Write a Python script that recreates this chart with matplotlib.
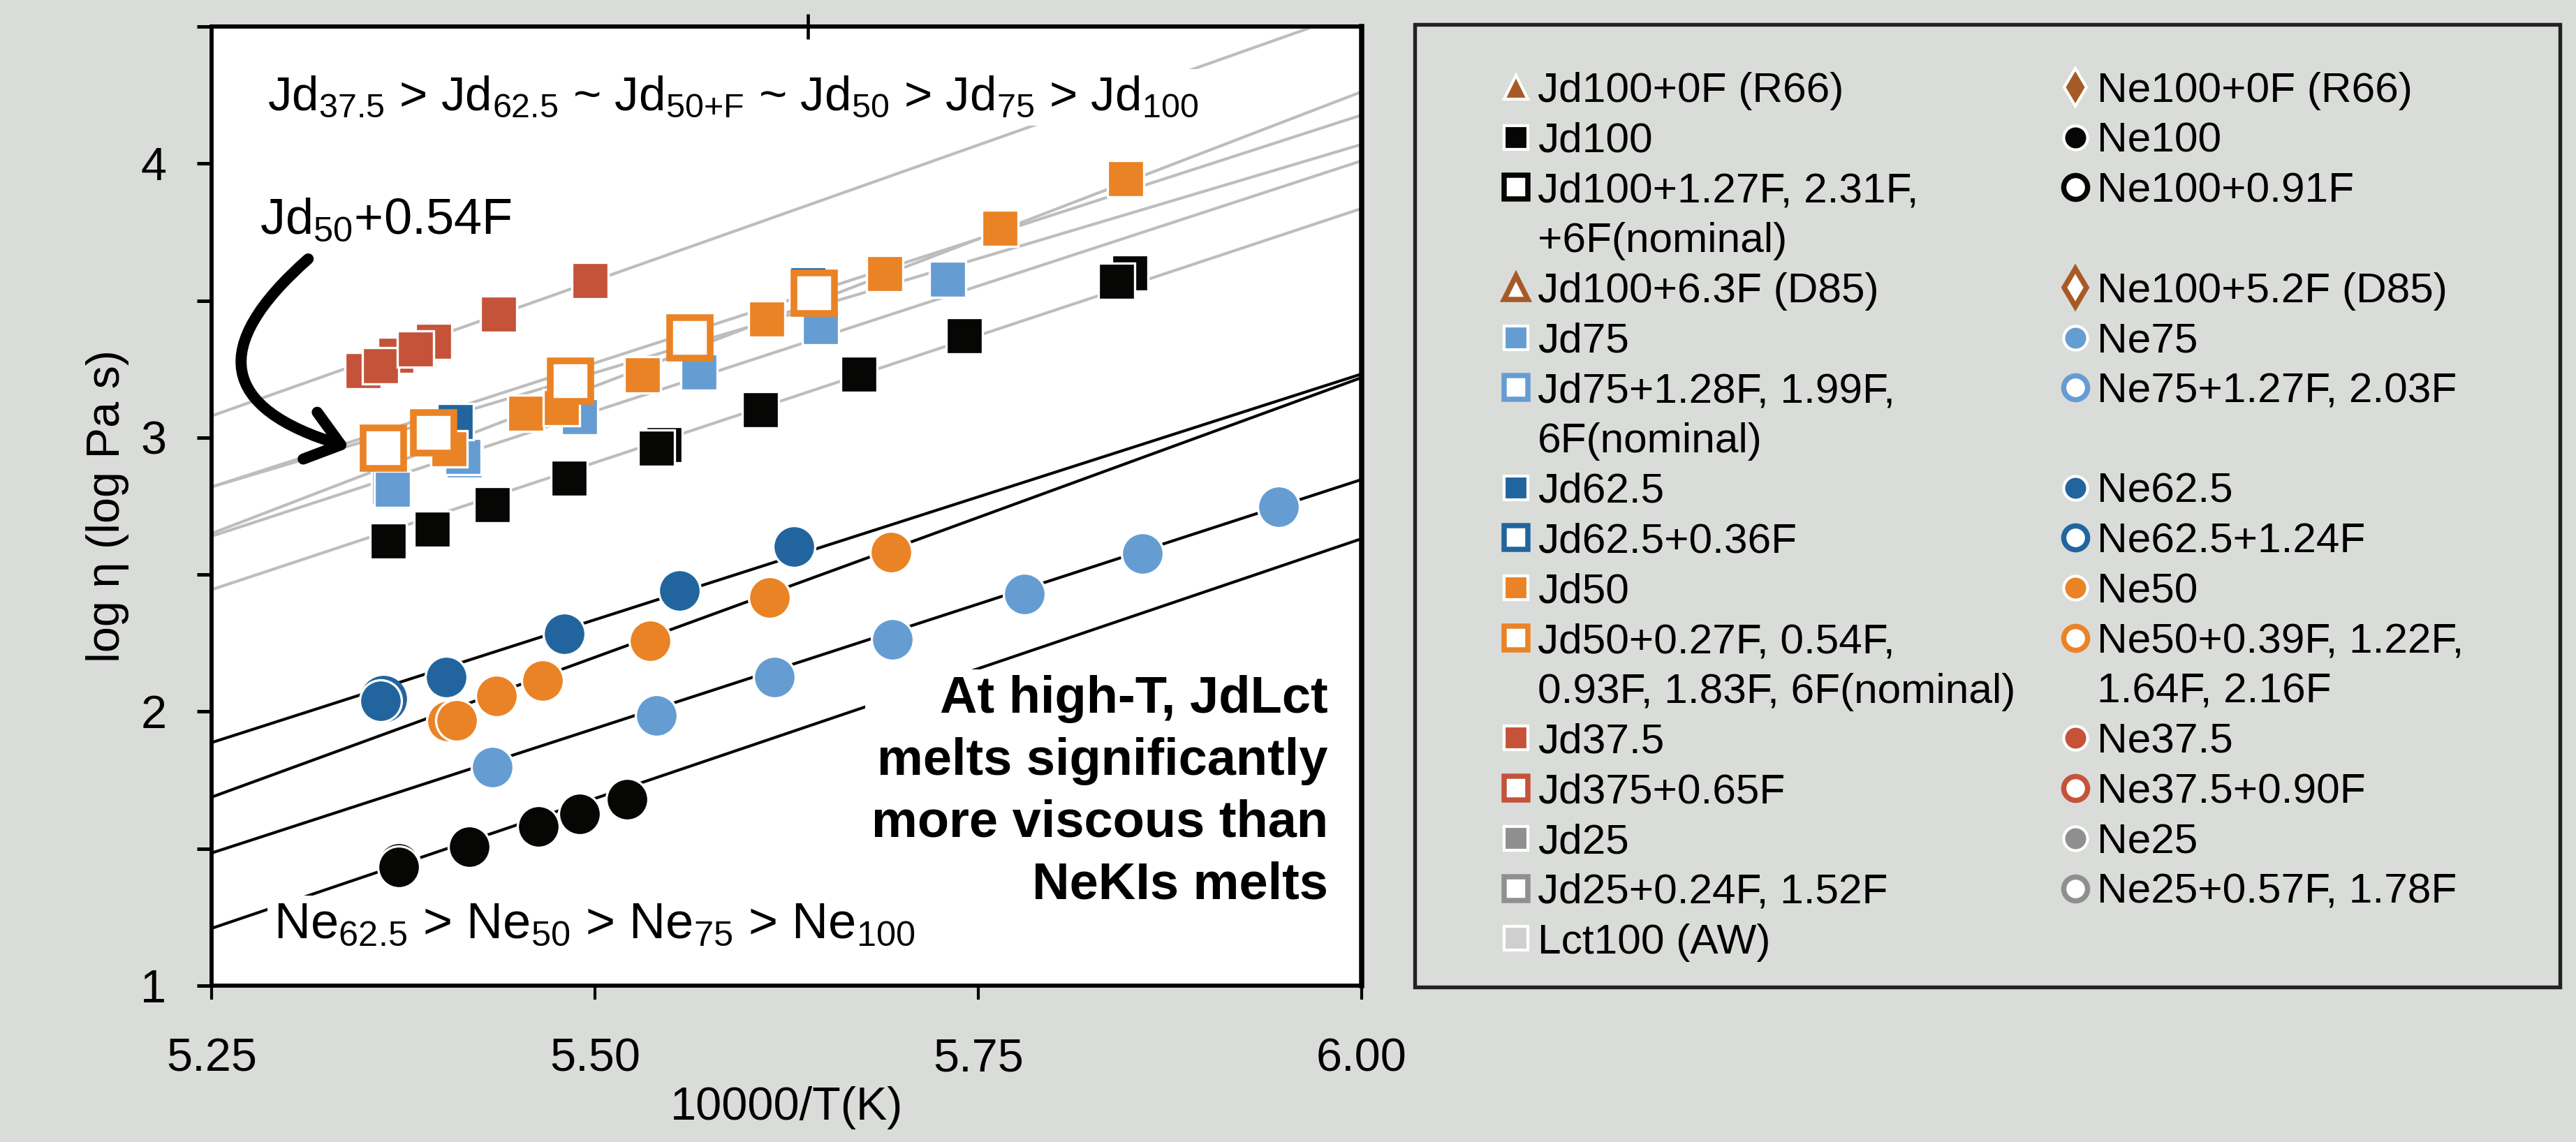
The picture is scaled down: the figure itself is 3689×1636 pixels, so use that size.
import numpy as np
import matplotlib
matplotlib.use("Agg")
import matplotlib.pyplot as plt
from matplotlib.lines import Line2D
from matplotlib.patches import Rectangle

plt.rcParams["font.family"] = ["Liberation Sans", "DejaVu Sans"]
plt.rcParams["mathtext.fontset"] = "custom"
plt.rcParams["mathtext.rm"] = "Liberation Sans"
plt.rcParams["mathtext.it"] = "Liberation Sans:italic"
plt.rcParams["mathtext.bf"] = "Liberation Sans:bold"

# ── colours ──────────────────────────────────────────────────────────────────
BLACK   = "#060604"
RED     = "#C4533A"
ORANGE  = "#EA8325"
LBLUE   = "#659DD3"
DBLUE   = "#22659E"
BROWN   = "#A65A28"
GREY    = "#8F8F8F"
LGREY   = "#CFCFCF"
FITGREY = "#BDBDBD"
BG      = "#DADCD9"

# ── data (x = 10000/T, y = log viscosity) ────────────────────────────────────
jd100_x    = [5.365, 5.394, 5.433, 5.483, 5.545, 5.608, 5.672, 5.741, 5.849]
jd100_y    = [2.623, 2.666, 2.755, 2.852, 2.975, 3.102, 3.232, 3.372, 3.601]
jd100f_x   = [5.540, 5.840]
jd100f_y   = [2.962, 3.571]

jd375_x    = [5.349, 5.370, 5.395, 5.437, 5.497]
jd375_y    = [3.245, 3.300, 3.352, 3.451, 3.573]
jd375f_x   = [5.360, 5.383]
jd375f_y   = [3.262, 3.322]

jd75_x     = [5.366, 5.415, 5.490, 5.568, 5.647, 5.730]
jd75_y     = [2.822, 2.918, 3.076, 3.240, 3.405, 3.578]
jd75f_x    = [5.368, 5.414]
jd75f_y    = [2.812, 2.930]

jd625_x    = [5.409, 5.484, 5.560, 5.639]
jd625_y    = [3.059, 3.222, 3.387, 3.558]

jd50_x     = [5.405, 5.455, 5.478, 5.531, 5.612, 5.689, 5.764, 5.846]
jd50_y     = [2.959, 3.089, 3.109, 3.229, 3.433, 3.599, 3.764, 3.945]
jd50f_x    = [5.362, 5.395, 5.484, 5.562, 5.643]
jd50f_y    = [2.962, 3.018, 3.206, 3.364, 3.527]

ne100_x    = [5.372, 5.418, 5.463, 5.490, 5.521]
ne100_y    = [1.433, 1.507, 1.581, 1.627, 1.680]
ne100f_x   = [5.372]
ne100f_y   = [1.447]

ne625_x    = [5.360, 5.403, 5.480, 5.555, 5.630]
ne625_y    = [2.040, 2.126, 2.284, 2.442, 2.603]
ne625f_x   = [5.362]
ne625f_y   = [2.048]

ne50_x     = [5.404, 5.436, 5.466, 5.536, 5.614, 5.693]
ne50_y     = [1.966, 2.058, 2.113, 2.258, 2.417, 2.582]
ne50f_x    = [5.410]
ne50f_y    = [1.968]

ne75_x     = [5.433, 5.540, 5.617, 5.694, 5.780, 5.857, 5.946]
ne75_y     = [1.797, 1.986, 2.126, 2.264, 2.429, 2.577, 2.748]

# linear fits, value at x = 5.25 and at x = 6.00
FIT_X         = [5.25, 6.00]
jd_fit_left   = [3.079, 2.820, 2.820, 2.650, 2.640, 2.445]
jd_fit_right  = [4.562, 4.177, 4.070, 4.262, 4.010, 3.836]
ne_fit_left   = [1.887, 1.688, 1.484, 1.209]
ne_fit_right  = [3.232, 3.219, 2.847, 2.631]

X_TICKS   = [5.25, 5.50, 5.75, 6.00]
Y_MAJOR   = [1, 2, 3, 4]
Y_MINOR   = [1.5, 2.5, 3.5, 4.5]
TOP_TICK  = [5.639]

# legend (two columns, continuation lines have no marker)
leg_left = [
    ("Jd100+0F (R66)",            "^", BROWN,   "white", 1.0),
    ("Jd100",                     "s", BLACK,   "white", 1.0),
    ("Jd100+1.27F, 2.31F,",       "s", "white", BLACK,   1.8),
    ("+6F(nominal)",              None, None,   None,    0),
    ("Jd100+6.3F (D85)",          "^", "white", BROWN,   1.8),
    ("Jd75",                      "s", LBLUE,   "white", 1.0),
    ("Jd75+1.28F, 1.99F,",        "s", "white", LBLUE,   1.8),
    ("6F(nominal)",               None, None,   None,    0),
    ("Jd62.5",                    "s", DBLUE,   "white", 1.0),
    ("Jd62.5+0.36F",              "s", "white", DBLUE,   1.8),
    ("Jd50",                      "s", ORANGE,  "white", 1.0),
    ("Jd50+0.27F, 0.54F,",        "s", "white", ORANGE,  1.8),
    ("0.93F, 1.83F, 6F(nominal)", None, None,   None,    0),
    ("Jd37.5",                    "s", RED,     "white", 1.0),
    ("Jd375+0.65F",               "s", "white", RED,     1.8),
    ("Jd25",                      "s", GREY,    "white", 1.0),
    ("Jd25+0.24F, 1.52F",         "s", "white", GREY,    1.8),
    ("Lct100 (AW)",               "s", LGREY,   "white", 1.0),
]
leg_right = [
    ("Ne100+0F (R66)",            "d", BROWN,   "white", 1.0),
    ("Ne100",                     "o", BLACK,   "white", 1.0),
    ("Ne100+0.91F",               "o", "white", BLACK,   1.8),
    (" ",                         None, None,   None,    0),
    ("Ne100+5.2F (D85)",          "d", "white", BROWN,   1.8),
    ("Ne75",                      "o", LBLUE,   "white", 1.0),
    ("Ne75+1.27F, 2.03F",         "o", "white", LBLUE,   1.8),
    (" ",                         None, None,   None,    0),
    ("Ne62.5",                    "o", DBLUE,   "white", 1.0),
    ("Ne62.5+1.24F",              "o", "white", DBLUE,   1.8),
    ("Ne50",                      "o", ORANGE,  "white", 1.0),
    ("Ne50+0.39F, 1.22F,",        "o", "white", ORANGE,  1.8),
    ("1.64F, 2.16F",              None, None,   None,    0),
    ("Ne37.5",                    "o", RED,     "white", 1.0),
    ("Ne37.5+0.90F",              "o", "white", RED,     1.8),
    ("Ne25",                      "o", GREY,    "white", 1.0),
    ("Ne25+0.57F, 1.78F",         "o", "white", GREY,    1.8),
    (" ",                         None, None,   None,    0),
]

# ── figure ───────────────────────────────────────────────────────────────────
W, H, DPI = 3689, 1636, 300
fig = plt.figure(figsize=(W / DPI, H / DPI), dpi=DPI, facecolor=BG)
ax = fig.add_axes([303 / W, 1 - 1412 / H, (1950 - 303) / W, (1412 - 38) / H])
ax.set_facecolor("white")


def pts(x, y, marker, face, edge, ms, mew, z):
    ax.plot(x, y, linestyle="none", marker=marker, markerfacecolor=face,
            markeredgecolor=edge, markersize=ms, markeredgewidth=mew, zorder=z)


# fit lines
for lo, hi in zip(jd_fit_left, jd_fit_right):
    ax.plot(FIT_X, [lo, hi], color=FITGREY, lw=1.0, zorder=1)
for lo, hi in zip(ne_fit_left, ne_fit_right):
    ax.plot(FIT_X, [lo, hi], color=BLACK, lw=1.0, zorder=1)

SQ, CI, OSQ = 12.6, 14.4, 13.8

# Jd squares
pts(jd100_x, jd100_y, "s", BLACK, "white", SQ, 0.8, 4)
pts(jd100f_x, jd100f_y, "s", BLACK, "white", SQ, 0.8, 4.1)
pts(jd375_x, jd375_y, "s", RED, "white", SQ, 0.8, 4)
pts(jd375f_x, jd375f_y, "s", RED, "white", SQ, 0.8, 4.1)
pts(jd75_x, jd75_y, "s", LBLUE, "white", SQ, 0.8, 4)
pts(jd75f_x, jd75f_y, "s", LBLUE, "white", SQ, 0.8, 4.1)
pts(jd625_x, jd625_y, "s", DBLUE, "white", SQ, 0.8, 4.2)
pts(jd50_x, jd50_y, "s", ORANGE, "white", SQ, 0.8, 4.3)
pts(jd50f_x, jd50f_y, "s", "white", ORANGE, OSQ, 2.3, 4.4)

# Ne circles
pts(ne100f_x, ne100f_y, "o", BLACK, "white", CI, 0.8, 3.9)
pts(ne100_x, ne100_y, "o", BLACK, "white", CI, 0.8, 4)
pts(ne625f_x, ne625f_y, "o", "white", DBLUE, CI, 1.6, 3.9)
pts(ne625_x, ne625_y, "o", DBLUE, "white", CI, 0.8, 4)
pts(ne50_x, ne50_y, "o", ORANGE, "white", CI, 0.8, 4)
pts(ne50f_x, ne50f_y, "o", ORANGE, "white", CI, 0.8, 4.1)
pts(ne75_x, ne75_y, "o", LBLUE, "white", CI, 0.8, 4)

# axes
ax.set_xlim(5.25, 6.00)
ax.set_ylim(1, 4.5)
ax.set_xticks(X_TICKS)
ax.set_xticklabels([f"{v:.2f}" for v in X_TICKS])
ax.set_yticks(Y_MAJOR)
ax.set_yticks(Y_MINOR, minor=True)
ax.tick_params(axis="x", which="both", direction="out", length=4.8, width=1.0,
               labelsize=16, pad=13)
ax.tick_params(axis="y", which="both", direction="out", length=5.0, width=1.2,
               labelsize=16, pad=10.5)
for side in ["left", "top", "bottom"]:
    ax.spines[side].set_linewidth(1.4)
ax.spines["right"].set_linewidth(1.8)
ax.set_xlabel("10000/T(K)", fontsize=16, labelpad=2)
ax.set_ylabel("log η (log Pa s)", fontsize=16, labelpad=4)

sec = ax.secondary_xaxis("top")
sec.set_xticks(TOP_TICK)
sec.set_xticklabels([])
sec.tick_params(direction="inout", length=8.5, width=1.1)
sec.spines["top"].set_linewidth(1.4)

# annotations
white_box = dict(facecolor="white", edgecolor="none", pad=2)
ax.text(5.2864, 4.195,
        r"Jd$\mathregular{_{37.5}}$ > Jd$\mathregular{_{62.5}}$ ~ "
        r"Jd$\mathregular{_{50{+}F}}$ ~ Jd$\mathregular{_{50}}$ > "
        r"Jd$\mathregular{_{75}}$ > Jd$\mathregular{_{100}}$",
        fontsize=16.6, va="baseline", ha="left", bbox=white_box, zorder=2)
ax.text(5.2814, 3.744, r"Jd$\mathregular{_{50}}$+0.54F",
        fontsize=17.3, va="baseline", ha="left", zorder=2)
ax.text(5.2905, 1.173,
        r"Ne$\mathregular{_{62.5}}$ > Ne$\mathregular{_{50}}$ > "
        r"Ne$\mathregular{_{75}}$ > Ne$\mathregular{_{100}}$",
        fontsize=17.3, va="baseline", ha="left", bbox=white_box, zorder=2)
# baseline given for the last line of the block
ax.text(5.978, 1.316,
        "At high-T, JdLct\nmelts significantly\nmore viscous than\nNeKIs melts",
        fontsize=17.8, fontweight="bold", va="baseline", ha="right",
        multialignment="right", linespacing=1.37, bbox=white_box, zorder=2)

ax.annotate("", xy=(5.340, 2.964), xytext=(5.313, 3.652),
            arrowprops=dict(arrowstyle="->,head_length=0.55,head_width=0.42",
                            connectionstyle="arc3,rad=0.9", color="black",
                            lw=3.8, shrinkA=0, shrinkB=0, mutation_scale=20,
                            capstyle="round", joinstyle="round"),
            zorder=5)

# legend frame
fig.patches.append(Rectangle((2026 / W, 1 - 1414 / H), (3666 - 2026) / W,
                             (1414 - 35) / H, transform=fig.transFigure,
                             facecolor="none", edgecolor="#222222", lw=1.3,
                             zorder=0))


def make_handles(entries):
    hs, labs = [], []
    for lab, mk, face, edge, mew in entries:
        if mk is None:
            hs.append(Line2D([], [], linestyle="none", marker="None"))
        else:
            hs.append(Line2D([], [], linestyle="none", marker=mk,
                             markersize=8.2 if mk != "d" else 9.0,
                             markerfacecolor=face, markeredgecolor=edge,
                             markeredgewidth=mew))
        labs.append(lab)
    return hs, labs


LEG_FS = 14.5
LEG_TOP = 1 - 103 / H
for entries, x_px in [(leg_left, 2153), (leg_right, 2954)]:
    hs, labs = make_handles(entries)
    fig.legend(hs, labs, loc="upper left", bbox_to_anchor=(x_px / W, LEG_TOP),
               bbox_transform=fig.transFigure, frameon=False, borderpad=0,
               borderaxespad=0, handlelength=0.6, handletextpad=0.215,
               labelspacing=0.277, prop={"size": LEG_FS})

fig.savefig("out.png", dpi=DPI, facecolor=BG)
